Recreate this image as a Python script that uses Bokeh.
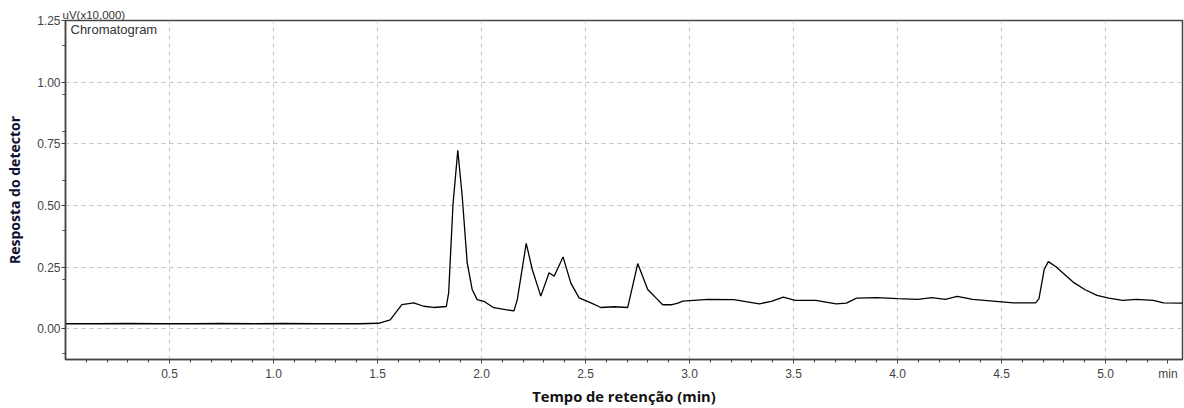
from bokeh.plotting import figure
from bokeh.models import Range1d, FixedTicker, NumeralTickFormatter, CustomJSTickFormatter, Label
from bokeh.embed import file_html
from bokeh.resources import INLINE

# Retention time (min) and detector response (uV x10,000)
time_min = [0.0, 0.15, 0.3, 0.45, 0.6, 0.75, 0.9, 1.05, 1.2, 1.35, 1.416, 1.505, 1.561, 1.617,
            1.674, 1.722, 1.770, 1.831, 1.842, 1.863, 1.886, 1.907, 1.931, 1.955, 1.979,
            2.011, 2.059, 2.156, 2.172, 2.215, 2.244, 2.285, 2.325, 2.349, 2.392, 2.429,
            2.469, 2.526, 2.574, 2.638, 2.703, 2.751, 2.799, 2.847, 2.871, 2.912, 2.944,
            2.967, 3.09, 3.213, 3.336, 3.393, 3.451, 3.508, 3.607, 3.705, 3.754, 3.803,
            3.902, 4.0, 4.098, 4.164, 4.23, 4.287, 4.361, 4.459, 4.557, 4.664, 4.68,
            4.705, 4.725, 4.76, 4.844, 4.902, 4.959, 5.016, 5.082, 5.148, 5.23, 5.279, 5.37]
response = [0.020, 0.020, 0.021, 0.020, 0.020, 0.021, 0.020, 0.021, 0.020, 0.020, 0.020, 0.022,
            0.036, 0.098, 0.105, 0.091, 0.086, 0.090, 0.145, 0.505, 0.723, 0.539, 0.268,
            0.159, 0.118, 0.111, 0.085, 0.072, 0.118, 0.346, 0.240, 0.132, 0.227, 0.213,
            0.291, 0.186, 0.125, 0.105, 0.086, 0.089, 0.086, 0.264, 0.159, 0.118, 0.097,
            0.097, 0.104, 0.112, 0.119, 0.118, 0.101, 0.111, 0.128, 0.115, 0.115, 0.101,
            0.104, 0.124, 0.126, 0.122, 0.119, 0.126, 0.119, 0.131, 0.119, 0.112, 0.105,
            0.105, 0.122, 0.240, 0.272, 0.252, 0.189, 0.158, 0.135, 0.124, 0.115, 0.119,
            0.115, 0.105, 0.104]

x_major = [0.5, 1.0, 1.5, 2.0, 2.5, 3.0, 3.5, 4.0, 4.5, 5.0]
x_unit_tick = [5.3]
x_minor = [round(0.1 * k, 1) for k in range(1, 54)]
y_major = [0.0, 0.25, 0.5, 0.75, 1.0, 1.25]
y_minor = [-0.1, 0.2, 0.4, 0.6, 0.8, 0.95, 1.15]

FONT_TICK = "Liberation Sans"
FONT_TITLE = "Open Sans"

p = figure(width=1184, height=408, output_backend="svg", toolbar_location=None,
           x_range=Range1d(0, 5.37), y_range=Range1d(-0.125, 1.25),
           min_border_left=65, min_border_right=2, min_border_top=20, min_border_bottom=47,
           title="uV(x10,000)")

p.title.text_font = FONT_TICK
p.title.text_font_size = "11.5px"
p.title.text_font_style = "normal"
p.title.text_color = "#333333"
p.title.align = "left"
p.title.offset = -3
p.title.standoff = 0

p.line(time_min, response, line_color="#000000", line_width=1.3)

p.outline_line_color = "#444444"
p.outline_line_width = 1.5
p.background_fill_color = "white"
p.border_fill_color = "white"

# X axis
xa = p.xaxis[0]
xa.ticker = FixedTicker(ticks=x_major + x_unit_tick, minor_ticks=x_minor)
xa.formatter = CustomJSTickFormatter(code="return tick > 5.2 ? 'min' : tick.toFixed(1);")
xa.axis_label = "Tempo de retenção (min)"
xa.axis_label_text_font = FONT_TITLE
xa.axis_label_text_font_style = "bold"
xa.axis_label_text_font_size = "14.7px"
xa.axis_label_text_color = "#111111"
xa.axis_label_standoff = 2
xa.major_label_text_font = FONT_TICK
xa.major_label_text_font_size = "12px"
xa.major_label_text_color = "#444444"
xa.major_label_standoff = 3
xa.axis_line_color = "#444444"
xa.axis_line_width = 1.5
xa.major_tick_in = 0
xa.major_tick_out = 4
xa.minor_tick_in = 0
xa.minor_tick_out = 3
xa.major_tick_line_color = "#444444"
xa.minor_tick_line_color = "#444444"

# Y axis
ya = p.yaxis[0]
ya.ticker = FixedTicker(ticks=y_major, minor_ticks=y_minor)
ya.formatter = NumeralTickFormatter(format="0.00")
ya.axis_label = "Resposta do detector"
ya.axis_label_text_font = FONT_TITLE
ya.axis_label_text_font_style = "bold"
ya.axis_label_text_font_size = "14px"
ya.axis_label_text_color = "#111133"
ya.axis_label_standoff = 10
ya.major_label_text_font = FONT_TICK
ya.major_label_text_font_size = "12px"
ya.major_label_text_color = "#444444"
ya.major_label_standoff = 1
ya.axis_line_color = "#444444"
ya.axis_line_width = 1.5
ya.major_tick_in = 0
ya.major_tick_out = 4
ya.minor_tick_in = 0
ya.minor_tick_out = 3
ya.major_tick_line_color = "#444444"
ya.minor_tick_line_color = "#444444"

# Grid
p.xgrid.ticker = FixedTicker(ticks=x_major)
p.ygrid.ticker = FixedTicker(ticks=[0.0, 0.25, 0.5, 0.75, 1.0])
for g in (p.xgrid[0], p.ygrid[0]):
    g.grid_line_color = "#c4c4c4"
    g.grid_line_dash = "4 4"
    g.grid_line_width = 1

# Inner text
p.add_layout(Label(x=0, y=1.25, x_offset=5, y_offset=-1, text="Chromatogram",
                   text_font=FONT_TICK, text_font_size="13px", text_color="#333333",
                   text_baseline="top", text_align="left"))

open("out.html", "w").write(file_html(p, INLINE))
